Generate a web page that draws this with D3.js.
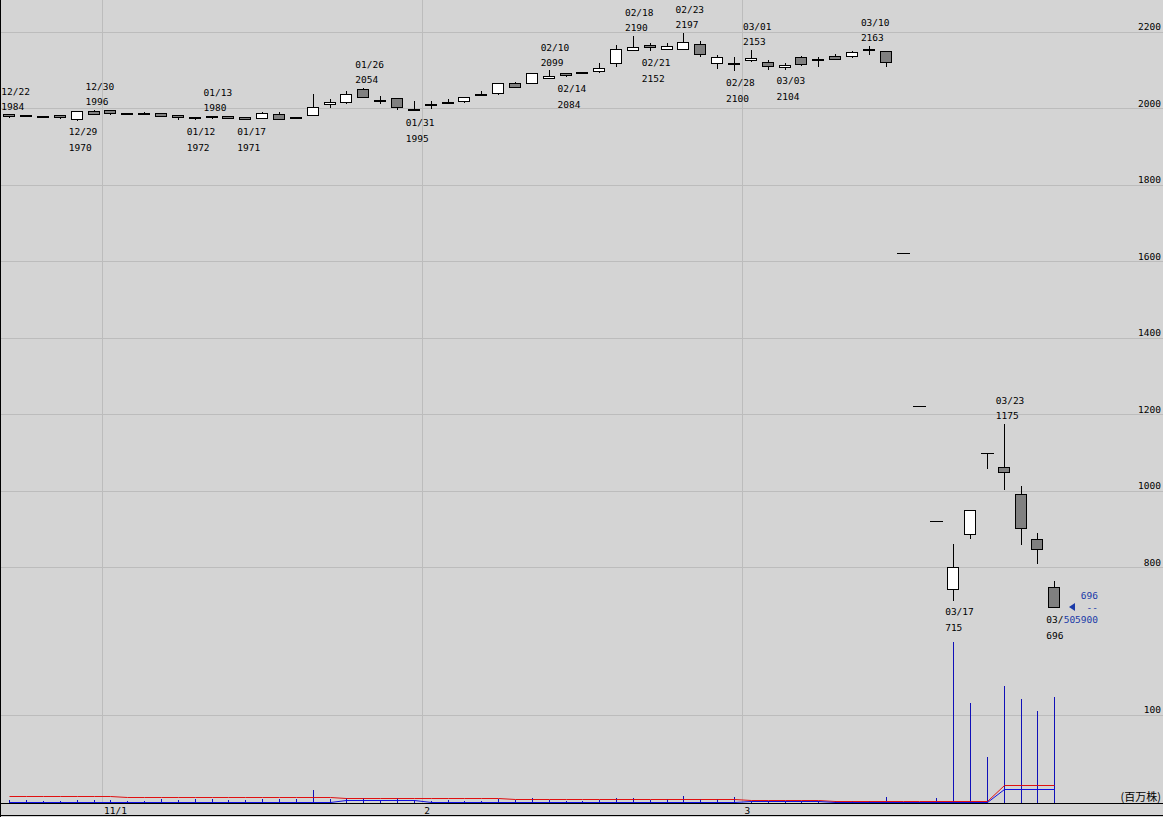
<!DOCTYPE html>
<html>
<head>
<meta charset="utf-8">
<script src="https://cdn.jsdelivr.net/npm/d3@7"></script>
<style>
  body { margin: 0; background: #d4d4d4; }
  svg { display: block; }
  .lbl { font-family: "DejaVu Sans Mono", monospace; font-size: 9.5px; }
</style>
</head>
<body>
<div id="chart"></div>
<script>
// trading days
var dates = ["12/22","12/24","12/27","12/28","12/29","12/30",
  "01/04","01/05","01/06","01/07","01/11","01/12","01/13","01/14","01/17","01/18","01/19","01/20","01/21","01/24","01/25","01/26","01/27","01/28","01/31",
  "02/01","02/02","02/03","02/04","02/07","02/08","02/09","02/10","02/14","02/15","02/16","02/17","02/18","02/21","02/22","02/23","02/24","02/25","02/28",
  "03/01","03/02","03/03","03/04","03/07","03/08","03/09","03/10","03/11","03/14","03/15","03/16","03/17","03/18","03/22","03/23","03/24","03/25","03/28"];

var opens  = [1984,1982,1981,1982,1972,1992,1995,1988,1989,1989,1982,1977,1979,1980,1977,1977,1985,1977,1984,2011,2016,2050,2023,2026,1997,
  2011,2017,2020,2038,2039,2067,2065,2078,2092,2095,2097,2118,2152,2165,2154,2157,2168,2118,2119,
  2125,2121,2107,2133,2129,2137,2136,2155,2150,1621,1221,921,743,886,1099,1061,991,873,748];
var highs  = [1984,1983,1981,1982,1992,1996,1995,1989,1990,1989,1982,1977,1980,1980,1978,1990,1991,1978,2037,2024,2044,2054,2033,2026,2019,
  2019,2024,2030,2045,2065,2069,2091,2099,2093,2095,2118,2165,2190,2171,2170,2197,2175,2139,2133,
  2153,2126,2118,2136,2135,2142,2150,2163,2150,1621,1221,921,861,949,1099,1175,1013,890,764];
var lows   = [1976,1980,1977,1975,1970,1984,1984,1985,1985,1982,1973,1972,1975,1974,1971,1976,1972,1974,1983,2003,2013,2029,2015,1998,1995,
  2000,2014,2016,2037,2037,2056,2065,2078,2084,2093,2096,2111,2152,2152,2154,2155,2137,2105,2100,
  2123,2104,2104,2113,2110,2128,2134,2141,2111,1621,1221,921,715,876,1060,1005,860,812,696];
var closes = [1979,1981,1980,1978,1992,1985,1987,1987,1988,1982,1977,1976,1978,1975,1972,1989,1973,1976,2004,2017,2037,2029,2021,2003,1996,
  2009,2015,2030,2037,2065,2056,2091,2084,2086,2093,2105,2154,2159,2159,2162,2174,2141,2133,2117,
  2131,2110,2113,2115,2127,2128,2146,2153,2120,1621,1221,921,800,949,1099,1048,902,847,696];

// volume (million shares)
var volumes = [3.1,3.1,2,2,3.1,3.1,3.1,2,2.3,4.2,3.1,4.2,4.2,3.1,3.1,4.2,4.2,4.2,14.4,4.2,5,5,3.1,5,3.4,
  2,3.1,2,2,4.2,3.1,5,3.4,2.3,2.5,3.4,5,5.4,2.7,3.9,8,3.9,3.9,6.8,
  1.9,1.5,1.5,1.9,1.9,1.9,1.5,1.5,6.8,0.3,0.3,5.3,183,113.6,52.3,133,118,104.5,120];
// red and blue volume lines
var redLine = [7.3,7.3,7.3,7.3,7.3,7.3,7.3,6.1,6.1,6.1,6.1,6.1,6.1,6.1,6.1,6.1,6.1,6.1,6.1,6.1,5,5,5,5,5,
  5,5,5,5,5,3.9,3.9,3.9,3.9,3.9,3.9,3.9,3.9,3.9,3.9,3.9,3.9,3.9,3.9,
  2.7,2.7,2.7,2.7,2.7,2.3,2.3,2.3,2.3,2.3,2.3,2.3,2.3,2.3,2.3,19.8,19.8,19.8,19.8];
var blueLine = [0.8,0.8,0.8,0.8,0.8,0.8,0.8,0.8,0.8,0.8,0.8,0.8,0.8,0.8,0.8,0.8,0.8,0.8,0.8,0.8,3.4,3.4,3.4,3.4,3.4,
  0.8,0.8,0.8,0.8,0.8,0.8,0.8,0.8,0.8,0.8,0.8,0.8,0.8,0.8,0.8,0.8,0.8,0.8,0.8,
  1.4,1.4,1.4,1.4,1.4,0.8,0.8,0.8,0.8,0.8,0.8,0.8,0.8,0.8,0.8,15.2,15.2,15.2,15.2];

// axis ticks
var priceTicks = [800,1000,1200,1400,1600,1800,2000,2200];
var volumeTicks = [100];
var monthLabels = ["11/1","2","3"];
var monthStarts = [6,25,44];

// high / low markers (candle index)
var highMarks = [0,5,12,21,32,37,40,44,51,59];
var lowMarks = [4,11,14,24,33,38,43,46,56,62];

// last price box
var lastPrice = "696";
var lastVolume = "505900";

var W = 1163, H = 817;
var idx = d3.range(dates.length);

var svg = d3.select("#chart")
  .append("svg")
  .attr("width", W)
  .attr("height", H);

svg.append("rect").attr("width", W).attr("height", H).attr("fill", "#d4d4d4");

// scales
var x = d3.scaleLinear().domain([0, dates.length - 1]).range([9.3, 1054.3]);
var y = d3.scaleLinear().domain([800, 2200]).range([567.3, 31.8]);
var yv = d3.scaleLinear().domain([0, 100]).range([802.7, 714.7]);

function px(v) { return Math.round(v) + 0.5; }

var grid = svg.append("g").attr("shape-rendering", "crispEdges");

// horizontal grid
grid.selectAll(".hp")
  .data(priceTicks)
  .enter().append("line")
  .attr("x1", 0).attr("x2", W)
  .attr("y1", function(d) { return px(y(d)); })
  .attr("y2", function(d) { return px(y(d)); })
  .attr("stroke", "#bcbcbc");

grid.selectAll(".hv")
  .data(volumeTicks)
  .enter().append("line")
  .attr("x1", 0).attr("x2", W)
  .attr("y1", function(d) { return px(yv(d)); })
  .attr("y2", function(d) { return px(yv(d)); })
  .attr("stroke", "#bcbcbc");

// month grid
grid.selectAll(".vm")
  .data(monthStarts)
  .enter().append("line")
  .attr("x1", function(d) { return px(x(d - 0.5)); })
  .attr("x2", function(d) { return px(x(d - 0.5)); })
  .attr("y1", 0).attr("y2", 803)
  .attr("stroke", "#bcbcbc");

// right axis labels
svg.selectAll(".pt")
  .data(priceTicks)
  .enter().append("text")
  .attr("class", "lbl")
  .attr("x", 1161)
  .attr("y", function(d) { return y(d) - 1.5; })
  .attr("text-anchor", "end")
  .text(function(d) { return d; });

svg.selectAll(".vt")
  .data(volumeTicks)
  .enter().append("text")
  .attr("class", "lbl")
  .attr("x", 1161)
  .attr("y", function(d) { return yv(d) - 1.5; })
  .attr("text-anchor", "end")
  .text(function(d) { return d; });

// month labels
svg.selectAll(".ml")
  .data(monthStarts)
  .enter().append("text")
  .attr("class", "lbl")
  .attr("x", function(d) { return x(d - 0.5) + 2; })
  .attr("y", 814)
  .text(function(d, i) { return monthLabels[i]; });

// volume bars
var vol = svg.append("g").attr("shape-rendering", "crispEdges");
vol.selectAll("line")
  .data(volumes)
  .enter().append("line")
  .attr("x1", function(d, i) { return px(x(i)); })
  .attr("x2", function(d, i) { return px(x(i)); })
  .attr("y1", 803)
  .attr("y2", function(d) { return Math.round(yv(d)); })
  .attr("stroke", "#1010b8");

// volume lines
var vline = d3.line()
  .x(function(d, i) { return px(x(i)); })
  .y(function(d) { return px(yv(d)); });

svg.append("path").attr("d", vline(redLine)).attr("fill", "none").attr("stroke", "#e01010").attr("stroke-width", 1);
svg.append("path").attr("d", vline(blueLine)).attr("fill", "none").attr("stroke", "#1010e0").attr("stroke-width", 1);

// axis lines
svg.append("line").attr("x1", 0).attr("x2", W).attr("y1", 803.5).attr("y2", 803.5).attr("stroke", "#000");
svg.append("line").attr("x1", 0).attr("x2", W).attr("y1", 815.5).attr("y2", 815.5).attr("stroke", "#000");
svg.append("line").attr("x1", 0.5).attr("x2", 0.5).attr("y1", 0).attr("y2", H).attr("stroke", "#000");

svg.append("text")
  .attr("x", 1161).attr("y", 801)
  .attr("text-anchor", "end")
  .attr("font-family", "'Noto Sans CJK JP'")
  .attr("font-size", "11px")
  .text("(百万株)");

// candles
var candles = svg.append("g").attr("shape-rendering", "crispEdges");

candles.selectAll(".wick")
  .data(idx)
  .enter().append("line")
  .attr("x1", function(i) { return px(x(i)); })
  .attr("x2", function(i) { return px(x(i)); })
  .attr("y1", function(i) { return Math.round(y(highs[i])); })
  .attr("y2", function(i) { return Math.round(y(lows[i])) + 1; })
  .attr("stroke", "#000");

// bodies where open and close differ
candles.selectAll(".body")
  .data(idx.filter(function(i) { return opens[i] !== closes[i]; }))
  .enter().append("rect")
  .attr("x", function(i) { return Math.round(x(i)) - 5.5; })
  .attr("width", 11)
  .attr("y", function(i) { return Math.round(y(Math.max(opens[i], closes[i]))) + 0.5; })
  .attr("height", function(i) {
    return Math.max(1, Math.round(y(Math.min(opens[i], closes[i])) - y(Math.max(opens[i], closes[i]))));
  })
  .attr("fill", function(i) { return closes[i] > opens[i] ? "#ffffff" : "#808080"; })
  .attr("stroke", "#000");

// flat candles (open == close)
candles.selectAll(".flat")
  .data(idx.filter(function(i) { return opens[i] === closes[i]; }))
  .enter().append("line")
  .attr("x1", function(i) { return Math.round(x(i)) - 6; })
  .attr("x2", function(i) { return Math.round(x(i)) + 7; })
  .attr("y1", function(i) { return px(y(opens[i])); })
  .attr("y2", function(i) { return px(y(opens[i])); })
  .attr("stroke", "#000");

// high / low labels
var last = dates.length - 1;
var marks = svg.append("g").attr("class", "lbl");
highMarks.forEach(function(i) {
  var hy = y(highs[i]);
  marks.append("text").attr("x", x(i) - 8).attr("y", hy - 23 + 3.5).text(dates[i]);
  marks.append("text").attr("x", x(i) - 8).attr("y", hy - 8 + 3.5).text(highs[i]);
});
lowMarks.forEach(function(i) {
  var ly = y(lows[i]);
  // the last date is cut by the volume readout
  var dl = i === last ? dates[i].slice(0, 3) : dates[i];
  marks.append("text").attr("x", x(i) - 8).attr("y", ly + 12 + 3.5).text(dl);
  marks.append("text").attr("x", x(i) - 8).attr("y", ly + 28 + 3.5).text(lows[i]);
});

// last price annotation
var ay = y(lows[last]);
svg.append("path")
  .attr("d", "M1069," + ay + "L1075," + (ay - 4) + "L1075," + (ay + 4) + "Z")
  .attr("fill", "#1a3aa8");
var ann = svg.append("g").attr("class", "lbl").attr("fill", "#1a3aa8").attr("text-anchor", "end");
ann.append("text").attr("x", 1098).attr("y", ay - 11.5 + 3.5).text(lastPrice);
ann.append("text").attr("x", 1098).attr("y", ay + 3.5).text("--");
ann.append("text").attr("x", 1098).attr("y", ay + 12 + 3.5).text(lastVolume);
</script>
</body>
</html>
